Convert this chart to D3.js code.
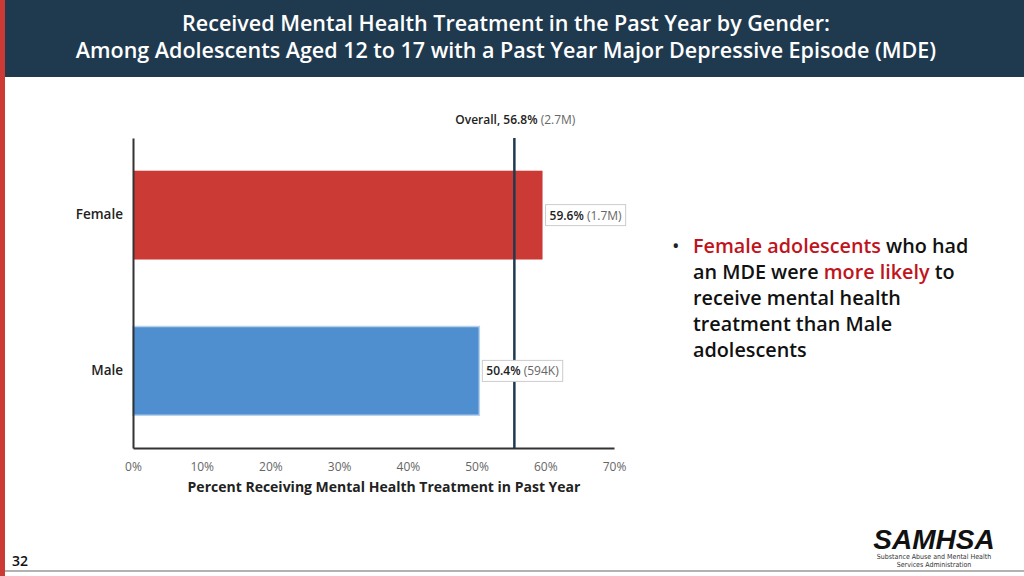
<!DOCTYPE html>
<html>
<head>
<meta charset="utf-8">
<script src="https://d3js.org/d3.v7.min.js"></script>
<style>
body { margin: 0; background: #fff; }
svg { display: block; font-family: "Open Sans", sans-serif; }
</style>
</head>
<body>
<div id="chart"></div>
<script>

const navy = "#1f3a4f";
const red = "#cc3a36";
const blue = "#4f8fd0";
const darkgray = "#222";
const gray = "#666";

// data
const categories = ["Female", "Male"];
const percents = [59.6, 50.4];
const counts = ["1.7M", "594K"];
const barColors = [red, blue];
const overallPercent = 56.8;
const overallCount = "2.7M";
const overallMarker = 55.5; // where the reference line is actually drawn
const xTicks = [0, 10, 20, 30, 40, 50, 60, 70];

const titleLines = [
  "Received Mental Health Treatment in the Past Year by Gender:",
  "Among Adolescents Aged 12 to 17 with a Past Year Major Depressive Episode (MDE)"
];

var svg = d3.select("#chart").append("svg")
            .attr("width", 1024)
            .attr("height", 576);

// header
svg.append("rect").attr("x", 0).attr("y", 0).attr("width", 1024).attr("height", 77).attr("fill", navy);
svg.append("rect").attr("x", 0).attr("y", 0).attr("width", 5).attr("height", 576).attr("fill", red);
svg.append("line").attr("x1", 5).attr("x2", 1024).attr("y1", 571).attr("y2", 571)
   .attr("stroke", "#999").attr("stroke-width", 1.5);

svg.selectAll(".title").data(titleLines).enter().append("text")
   .attr("x", 506)
   .attr("y", (d, i) => 31 + i * 27)
   .attr("text-anchor", "middle")
   .attr("fill", "#fff")
   .attr("font-size", "21.5px")
   .attr("font-weight", 600)
   .text(d => d);

// chart area
var x = d3.scaleLinear().domain([0, 70]).range([133, 614]);
var y = d3.scaleBand().domain(categories).range([138, 448]).paddingInner(0.43).paddingOuter(0.21);

var g = svg.append("g");

g.selectAll(".bar").data(categories).enter().append("rect")
 .attr("x", x(0))
 .attr("y", d => y(d))
 .attr("width", (d, i) => x(percents[i]) - x(0))
 .attr("height", y.bandwidth())
 .attr("fill", (d, i) => barColors[i])
 .attr("stroke", (d, i) => i == 1 ? "#b8d2ee" : "none")
 .attr("stroke-width", 1.5);

var xAxis = g.append("g")
  .attr("transform", "translate(0,448)")
  .call(d3.axisBottom(x).tickValues(xTicks).tickSize(0).tickPadding(14).tickFormat(d => d + "%"));
xAxis.select(".domain").attr("stroke", "#333").attr("stroke-width", 2);
xAxis.selectAll("text").attr("font-size", "12px").attr("fill", gray).attr("font-family", "Open Sans");

var yAxis = g.append("g")
  .attr("transform", "translate(133,0)")
  .call(d3.axisLeft(y).tickSize(0).tickPadding(10));
yAxis.select(".domain").attr("stroke", "#333").attr("stroke-width", 2);
yAxis.selectAll("text").attr("font-size", "13.5px").attr("font-weight", 600)
     .attr("fill", darkgray).attr("font-family", "Open Sans");

// overall line
g.append("line")
 .attr("x1", x(overallMarker)).attr("x2", x(overallMarker))
 .attr("y1", 138).attr("y2", 448)
 .attr("stroke", navy).attr("stroke-width", 2.5);

var ol = g.append("text")
 .attr("x", x(overallMarker) + 1)
 .attr("y", 124)
 .attr("text-anchor", "middle")
 .attr("font-size", "12px");
ol.append("tspan").attr("font-weight", 600).attr("fill", darkgray).text("Overall, " + overallPercent.toFixed(1) + "% ");
ol.append("tspan").attr("fill", gray).text("(" + overallCount + ")");

// bar labels
categories.forEach(function(c, i) {
  var lx = x(percents[i]) + 3;
  var cy = y(c) + y.bandwidth() / 2;
  var lg = g.append("g");
  var box = lg.append("rect")
    .attr("y", cy - 10.5).attr("height", 21)
    .attr("x", lx)
    .attr("fill", "#fff").attr("stroke", "#ccc").attr("stroke-width", 1);
  var t = lg.append("text")
    .attr("x", lx + 4)
    .attr("y", cy + 4.5)
    .attr("font-size", "12px");
  t.append("tspan").attr("font-weight", 600).attr("fill", darkgray).text(percents[i].toFixed(1) + "% ");
  t.append("tspan").attr("fill", gray).text("(" + counts[i] + ")");
  box.attr("width", t.node().getComputedTextLength() + 8);
});

// axis title
g.append("text")
 .attr("x", 384).attr("y", 492)
 .attr("text-anchor", "middle")
 .attr("font-size", "14px").attr("font-weight", 700).attr("fill", darkgray)
 .text("Percent Receiving Mental Health Treatment in Past Year");

// bullet text
const bulletLines = [
  [["Female adolescents", true], [" who had", false]],
  [["an MDE were ", false], ["more likely", true], [" to", false]],
  [["receive mental health", false]],
  [["treatment than Male", false]],
  [["adolescents", false]]
];
svg.append("text").attr("x", 672).attr("y", 253).attr("font-size", "20px").attr("fill", darkgray).text("•");
bulletLines.forEach(function(line, i) {
  var t = svg.append("text")
    .attr("x", 693).attr("y", 253 + i * 26)
    .attr("font-size", "19.8px").attr("font-weight", 600);
  line.forEach(function(p) {
    t.append("tspan").attr("fill", p[1] ? "#c0141c" : "#111").text(p[0]);
  });
});

// footer
svg.append("text").attr("x", 12).attr("y", 566).attr("font-size", "14px").attr("font-weight", 600)
   .attr("fill", "#111").text("32");

svg.append("text").attr("x", 934).attr("y", 549).attr("text-anchor", "middle")
   .attr("font-size", "28px").attr("font-weight", 800).attr("font-style", "italic")
   .attr("fill", "#111").attr("font-family", "Liberation Sans").text("SAMHSA");
svg.append("text").attr("x", 934).attr("y", 559).attr("text-anchor", "middle")
   .attr("font-size", "7px").attr("fill", "#333").attr("font-family", "DejaVu Sans Condensed")
   .text("Substance Abuse and Mental Health");
svg.append("text").attr("x", 934).attr("y", 567).attr("text-anchor", "middle")
   .attr("font-size", "7px").attr("fill", "#333").attr("font-family", "DejaVu Sans Condensed")
   .text("Services Administration");

</script>
</body>
</html>
